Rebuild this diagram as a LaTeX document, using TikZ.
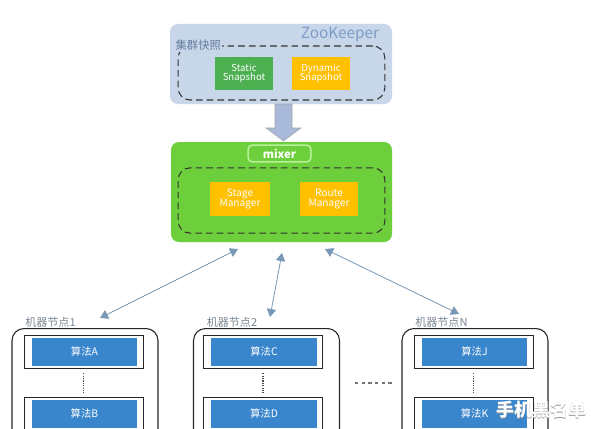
\documentclass[tikz,border=0pt]{standalone}
\usepackage{fontspec}
\setmainfont{Noto Sans CJK SC}
\usetikzlibrary{arrows.meta,calc}
\definecolor{zkfill}{HTML}{C8D6EA}
\definecolor{zktext}{HTML}{7E9CC6}
\definecolor{sgreen}{HTML}{4CAF50}
\definecolor{orng}{HTML}{FFC000}
\definecolor{mgreen}{HTML}{6DCF3C}
\definecolor{mborder}{HTML}{B8F09A}
\definecolor{algblue}{HTML}{3A86CC}
\definecolor{lnk}{HTML}{7898B5}
\definecolor{lbl}{HTML}{7C8894}
\definecolor{arrfill}{HTML}{A9B9DA}
\tikzset{
  px/.style={x=0.75pt,y=-0.75pt},
  bigbox/.style={rounded corners=6pt,inner sep=0pt},
  dashbox/.style={draw=black!80,dashed,thick,rounded corners=9pt,inner sep=0pt,dash pattern=on 5pt off 3pt},
  snap/.style={inner sep=0pt,text=white,font=\fontsize{7.2}{8}\selectfont,align=center,minimum width=43.5pt,minimum height=25pt},
  nodebox/.style={draw=black!85,thick,rounded corners=9pt,inner sep=0pt,minimum width=109.5pt,minimum height=90pt,anchor=north},
  algframe/.style={draw=black!85,fill=white,inner sep=0pt,minimum width=89pt,minimum height=24.5pt},
  algfill/.style={fill=algblue,inner sep=0pt,minimum width=79pt,minimum height=21.5pt,text=white,font=\fontsize{7.8}{8}\selectfont},
  nlabel/.style={text=lbl,font=\fontsize{8.3}{9}\selectfont,anchor=west,inner sep=0pt},
  link/.style={draw=lnk,line width=0.6pt,{Triangle[width=7pt,length=6pt]}-{Triangle[width=7pt,length=6pt]}},
  vdots/.style={draw=black!70,line width=1pt,dash pattern=on 1pt off 0.8pt},
}
\begin{document}
\begin{tikzpicture}[px]
\useasboundingbox (0,0) rectangle (591,428);
\clip (0,0) rectangle (591,428);
\fill[white] (0,0) rectangle (591,428);
% ZooKeeper
\node[bigbox,fill=zkfill,minimum width=166.5pt,minimum height=60pt] (zk) at (281,64) {};
\node[text=zktext,font=\fontsize{11.5}{12}\selectfont,inner sep=0pt] (zkt) at (340,35) {ZooKeeper};
\node[dashbox,minimum width=155pt,minimum height=40.5pt] (snapgrp) at (281.5,73) {};
\node[text=zktext!80!black,font=\fontsize{8.5}{10}\selectfont,inner sep=1pt,anchor=west,fill=zkfill] (snapl) at (174,45) {集群快照};
\node[snap,fill=sgreen] (static) at (244,73.5) {Static\\[-1pt]Snapshot};
\node[snap,fill=orng] (dynamic) at (321,73.5) {Dynamic\\[-1pt]Snapshot};
% block arrow
\coordinate (a1) at (275,104);
\draw[fill=arrfill,draw=gray!70] (275,104) -- (292,104) -- (292,128) -- (301,128) -- (283.5,141) -- (266,128) -- (275,128) -- cycle;
% mixer
\node[bigbox,fill=mgreen,minimum width=165.75pt,minimum height=75pt] (mixer) at (281.5,192) {};
\node[draw=mborder,line width=1.2pt,fill=mgreen,rounded corners=3pt,minimum width=47pt,minimum height=12.5pt,inner sep=0pt,text=white,font=\bfseries\fontsize{8.5}{9}\selectfont] (mixt) at (279.5,153.5) {mixer};
\node[dashbox,minimum width=155pt,minimum height=49pt] (mgrp) at (281.5,200.5) {};
\node[snap,fill=orng,minimum width=45pt,font=\fontsize{7.6}{8.5}\selectfont] (stage) at (240,199) {Stage\\[-1pt]Manager};
\node[snap,fill=orng,font=\fontsize{7.6}{8.5}\selectfont] (route) at (329,199) {Route\\[-1pt]Manager};
% machine nodes
\foreach \n/\cx/\fx/\lab/\ta/\tb in {m1/85/83.5/机器节点1/算法A/算法B, m2/266.5/263/机器节点2/算法C/算法D, mn/475/473.5/机器节点N/算法J/算法K}{
  \node[nodebox] (\n) at (\cx,328) {};
  \node[nlabel] (\n l) at (\cx-60,322) {\lab};
  \node[algframe] (\n f1) at (\fx,351.5) {};
  \node[algfill] (\n a1) at (\fx+1,352) {\ta};
  \node[algframe] (\n f2) at (\fx,413.5) {};
  \node[algfill] (\n a2) at (\fx+1,414) {\tb};
  \draw[vdots] ($(\n f1.south)+(0,5)$) -- ($(\n f2.north)+(0,-4)$);
}
% horizontal dots between node 2 and node N
\coordinate (hd1) at (355,383);
\coordinate (hd2) at (392,383);
\draw[draw=black!55,line width=1.4pt,dash pattern=on 2.5pt off 2.5pt] (hd1) -- (hd2);
% links
\coordinate (l1a) at (238,249); \coordinate (l1b) at (100,318);
\coordinate (l2a) at (282,253); \coordinate (l2b) at (270,317);
\coordinate (l3a) at (325,249); \coordinate (l3b) at (459,314);
\draw[link] (l1a) -- (l1b);
\draw[link] (l2a) -- (l2b);
\draw[link] (l3a) -- (l3b);
% watermark
\node[text=black!40,font=\bfseries\fontsize{13.5}{14}\selectfont,inner sep=0pt] (wms) at (541.7,410.7) {手机黑名单};
\node[text=white,font=\bfseries\fontsize{13.5}{14}\selectfont,inner sep=0pt] (wm) at (541,410) {手机黑名单};
\end{tikzpicture}
\end{document}
